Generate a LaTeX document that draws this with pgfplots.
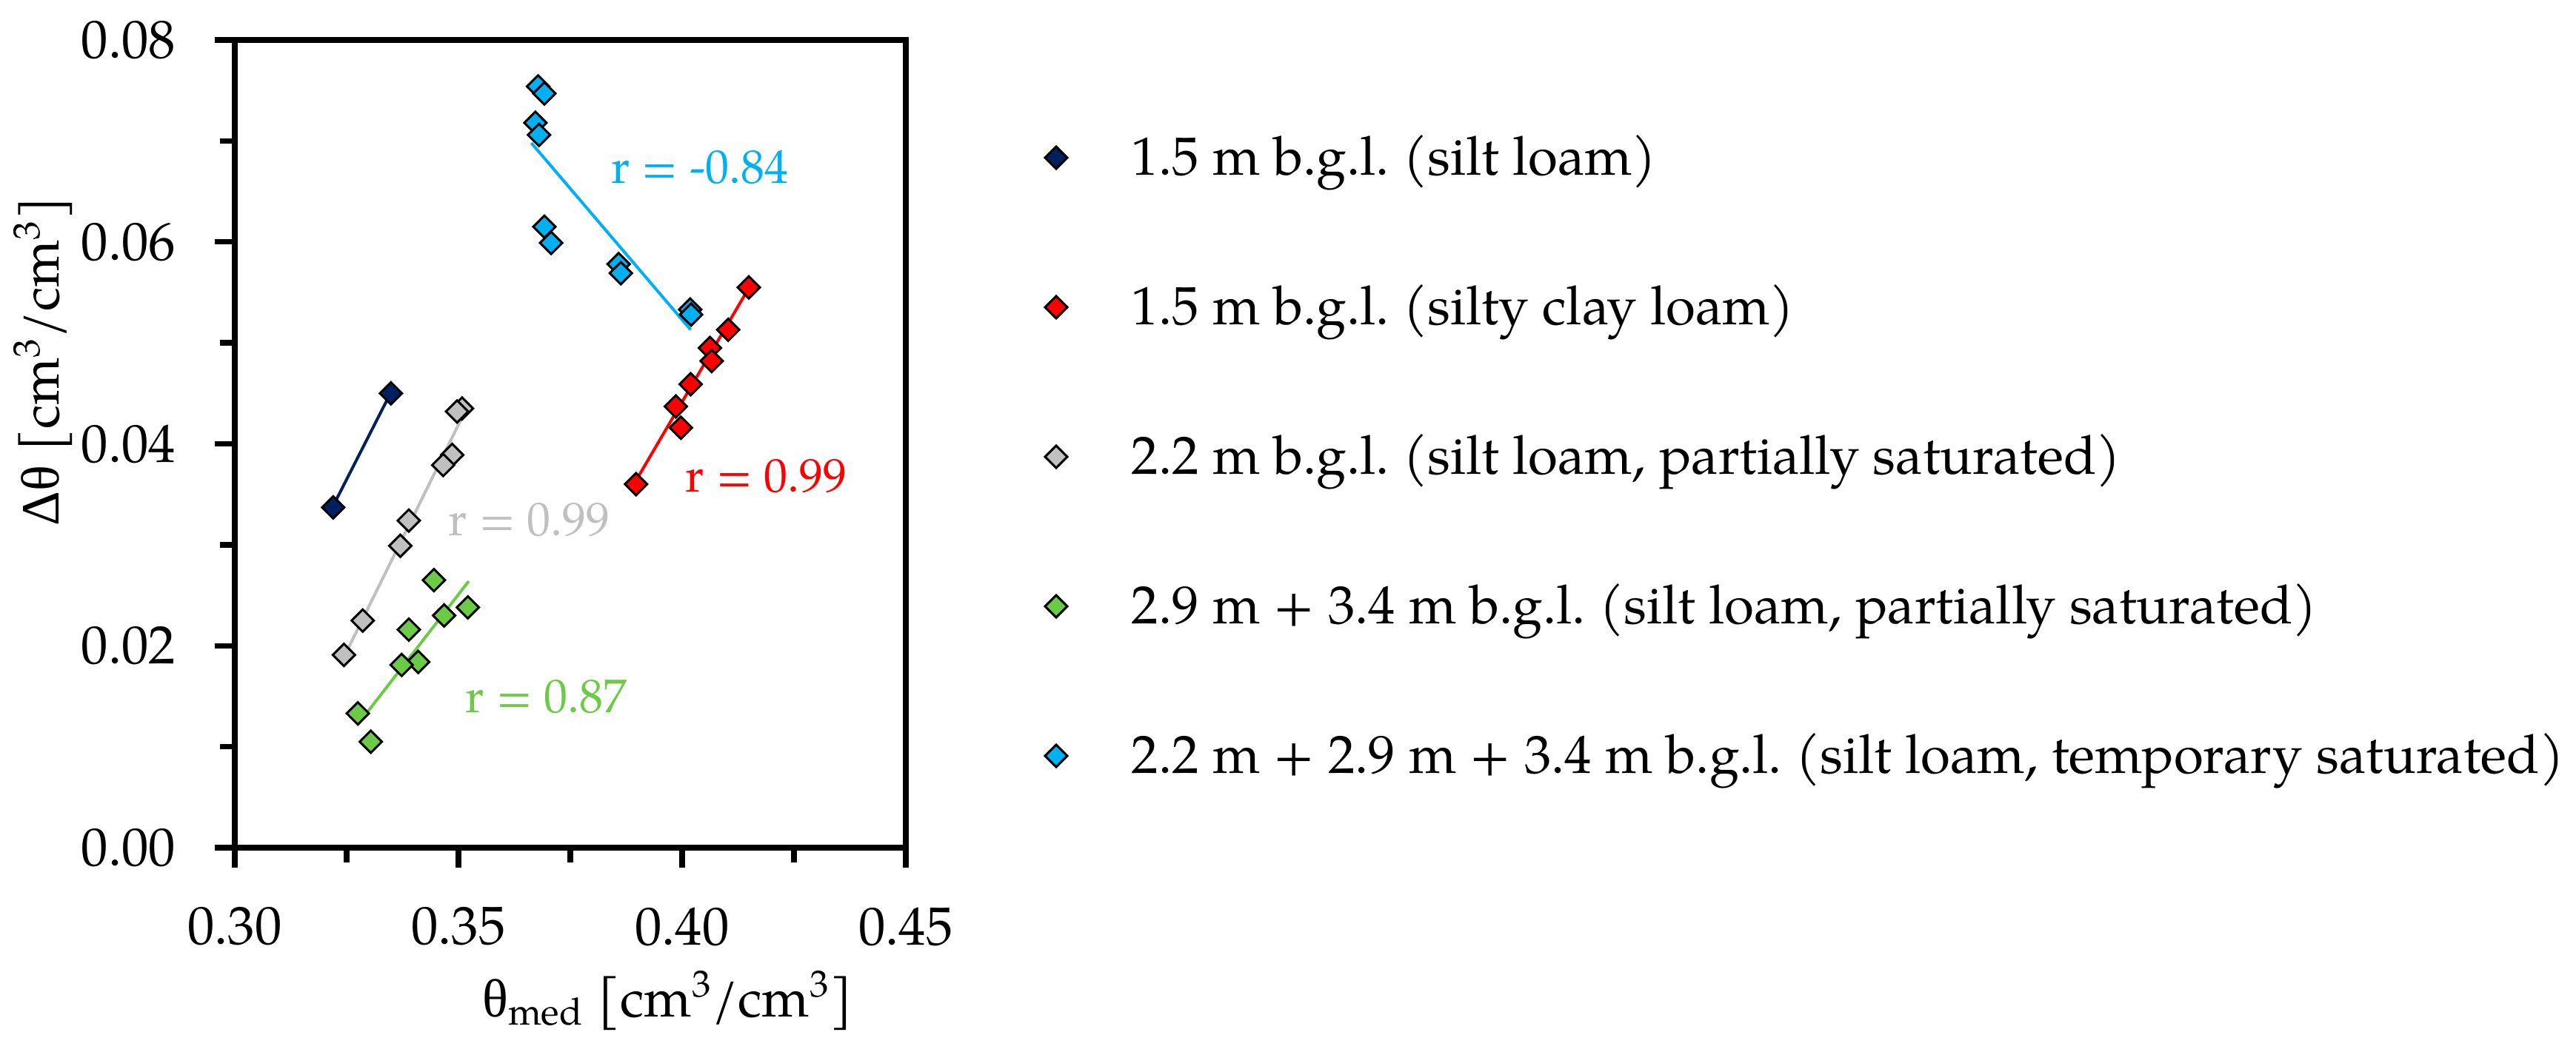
\documentclass[border=0pt]{standalone}
\usepackage{fontspec}
\setmainfont{TeX Gyre Pagella}
\newfontfamily\grk{Liberation Serif}
\usepackage{pgfplots}
\pgfplotsset{compat=1.18}
\frenchspacing
\definecolor{cNavy}{HTML}{002060}
\definecolor{cRed}{HTML}{FF0000}
\definecolor{cGrey}{HTML}{C0C0C0}
\definecolor{cGreen}{HTML}{6CCB46}
\definecolor{cCyan}{HTML}{00B0F0}
\newcommand\tfont{\fontsize{20.7}{24}\selectfont}
\newcommand\rfont{\fontsize{18.2}{22}\selectfont}
\pgfplotsset{
  pts/.style={only marks, mark=square*, mark size=0.106cm,
    mark options={rotate=45, draw=black, line width=0.03cm, fill=#1}},
  fit/.style={forget plot, no marks, line width=0.04cm, color=#1},
}
\begin{document}
\begin{tikzpicture}
\path[use as bounding box] (0,0) rectangle (34.78cm,-14.20cm);
\begin{axis}[
  at={(3.17cm,-11.45cm)}, anchor=south west,
  scale only axis, width=9.06cm, height=10.91cm,
  xmin=0.30, xmax=0.45, ymin=0, ymax=0.08,
  xtick={0.30,0.35,0.40,0.45}, ytick={0,0.02,0.04,0.06,0.08},
  scaled x ticks=false, scaled y ticks=false,
  minor x tick num=1, minor y tick num=1,
  tick align=outside, xtick pos=left, ytick pos=left,
  major tick length=0.27cm, minor tick length=0.2cm,
  axis line style={line width=0.073cm},
  tick style={line width=0.073cm, black},
  /pgf/number format/assume math mode=true,
  xticklabel style={/pgf/number format/.cd, fixed, fixed zerofill, precision=2, /tikz/.cd,
    font=\tfont, inner sep=0pt, anchor=north, yshift=-0.53cm},
  yticklabel style={/pgf/number format/.cd, fixed, fixed zerofill, precision=2, /tikz/.cd,
    font=\tfont, inner sep=0pt, anchor=east, xshift=-0.52cm},
  xlabel={{\grk θ}\textsubscript{med} [cm\textsuperscript{3}/cm\textsuperscript{3}]},
  ylabel={{\grk Δθ} [cm\textsuperscript{3}/cm\textsuperscript{3}]},
  xlabel style={at={(axis description cs:0.645,0)}, anchor=base, yshift=-2.28cm, inner sep=0pt, font=\tfont},
  ylabel style={at={(axis description cs:-0.2616,0.602)}, anchor=base, inner sep=0pt, font=\tfont},
  legend style={at={(axis description cs:1.2075,0.8873)}, anchor=north west,
    draw=none, fill=none, inner sep=0pt, outer sep=0pt,
    row sep=1.30cm, column sep=0.87cm,
    nodes={inner sep=0pt, text height=0.60cm, text depth=0.12cm, font=\tfont}},
  legend cell align=left,
]
% 1.5 m silt loam
\addplot[pts=cNavy] coordinates {(0.3220,0.0337) (0.3349,0.0450)};
\addlegendentry{1.5 m b.g.l. (silt loam)}
\addplot[fit=cNavy] coordinates {(0.3225,0.0343) (0.3341,0.0444)};
% 1.5 m silty clay loam
\addplot[pts=cRed] coordinates {(0.4149,0.0555) (0.4103,0.0513) (0.4062,0.0495) (0.4066,0.0482)
  (0.4019,0.0459) (0.3986,0.0437) (0.3997,0.0416) (0.3897,0.0360)};
\addlegendentry{1.5 m b.g.l. (silty clay loam)}
\addplot[fit=cRed] coordinates {(0.3900,0.0366) (0.4142,0.0549)};
% 2.2 m partially saturated
\addplot[pts=cGrey] coordinates {(0.3508,0.0435) (0.3497,0.0432) (0.3486,0.0389) (0.3466,0.0379)
  (0.3389,0.0324) (0.3370,0.0299) (0.3286,0.0225) (0.3244,0.0191)};
\addlegendentry{2.2 m b.g.l. (silt loam, partially saturated)}
\addplot[fit=cGrey] coordinates {(0.3252,0.0196) (0.3510,0.0428)};
% 2.9 + 3.4 m partially saturated
\addplot[pts=cGreen] coordinates {(0.3445,0.0265) (0.3521,0.0238) (0.3468,0.0230) (0.3389,0.0216)
  (0.3410,0.0184) (0.3373,0.0181) (0.3275,0.0133) (0.3304,0.0105)};
\addlegendentry{2.9 m + 3.4 m b.g.l. (silt loam, partially saturated)}
\addplot[fit=cGreen] coordinates {(0.3275,0.0122) (0.3523,0.0264)};
% temporary saturated
\addplot[pts=cCyan] coordinates {(0.3678,0.0754) (0.3692,0.0747) (0.3672,0.0718) (0.3680,0.0706)
  (0.3692,0.0615) (0.3707,0.0599) (0.3858,0.0578) (0.3863,0.0569) (0.4018,0.0533) (0.4020,0.0528)};
\addlegendentry{2.2 m + 2.9 m + 3.4 m b.g.l. (silt loam, temporary saturated)}
\addplot[fit=cCyan] coordinates {(0.3663,0.0698) (0.4019,0.0513)};
\node[anchor=base west, inner sep=0pt, text=cCyan, font=\rfont] at (axis cs:0.3841,0.0658) {r = -0.84};
\node[anchor=base west, inner sep=0pt, text=cRed, font=\rfont] at (axis cs:0.4007,0.0352) {r = 0.99};
\node[anchor=base west, inner sep=0pt, text=cGrey, font=\rfont] at (axis cs:0.3477,0.0309) {r = 0.99};
\node[anchor=base west, inner sep=0pt, text=cGreen, font=\rfont] at (axis cs:0.3515,0.0134) {r = 0.87};
\end{axis}
\end{tikzpicture}
\end{document}
